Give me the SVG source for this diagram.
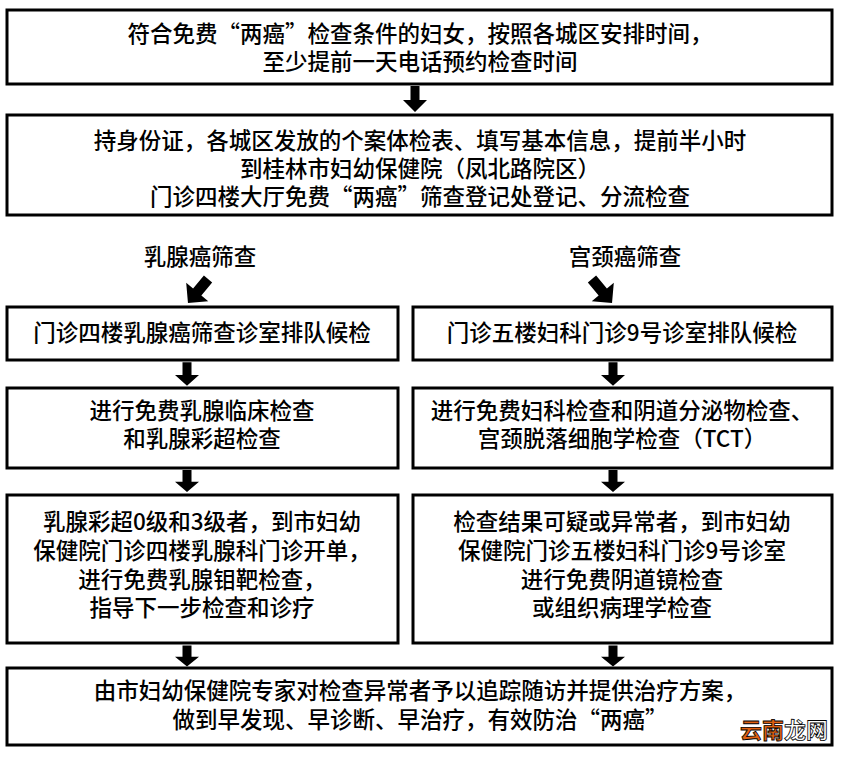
<svg xmlns="http://www.w3.org/2000/svg" width="850" height="757" viewBox="0 0 850 757">
<style>
.b{fill:#fff;stroke:#000;stroke-width:3}
text{font-family:"Noto Sans CJK SC",sans-serif;font-size:22.5px;font-weight:500;fill:#000;text-anchor:middle}
.a{fill:#000}
</style>
<defs><path id="ar" d="M-4.5,-13 H4.5 V1 H12 L0,13 L-12,1 H-4.5 Z"/></defs>
<rect width="850" height="757" fill="#fff"/>
<g id="n1"><rect class="b" x="7" y="10" width="825" height="74"/><text x="420" y="42">符合免费“两癌”检查条件的妇女，按照各城区安排时间，</text><text x="420" y="70">至少提前一天电话预约检查时间</text></g>
<g id="n2"><rect class="b" x="7" y="115" width="825" height="100"/><text x="420" y="149">持身份证，各城区发放的个案体检表、填写基本信息，提前半小时</text><text x="420" y="177">到桂林市妇幼保健院（凤北路院区）</text><text x="420" y="205">门诊四楼大厅免费“两癌”筛查登记处登记、分流检查</text></g>
<g id="l0"><text x="200" y="265">乳腺癌筛查</text></g>
<g id="r0"><text x="625" y="265">宫颈癌筛查</text></g>
<g id="l1"><rect class="b" x="7" y="307" width="391" height="53"/><text x="202" y="341">门诊四楼乳腺癌筛查诊室排队候检</text></g>
<g id="r1"><rect class="b" x="413" y="307" width="419" height="53"/><text x="622" y="341">门诊五楼妇科门诊9号诊室排队候检</text></g>
<g id="l2"><rect class="b" x="7" y="388" width="391" height="80"/><text x="202" y="419">进行免费乳腺临床检查</text><text x="202" y="447">和乳腺彩超检查</text></g>
<g id="r2"><rect class="b" x="413" y="388" width="419" height="80"/><text x="622" y="419">进行免费妇科检查和阴道分泌物检查、</text><text x="622" y="447">宫颈脱落细胞学检查（TCT）</text></g>
<g id="l3"><rect class="b" x="7" y="495" width="391" height="148"/><text x="202" y="530">乳腺彩超0级和3级者，到市妇幼</text><text x="202" y="559">保健院门诊四楼乳腺科门诊开单，</text><text x="202" y="588">进行免费乳腺钼靶检查，</text><text x="202" y="616">指导下一步检查和诊疗</text></g>
<g id="r3"><rect class="b" x="413" y="495" width="419" height="148"/><text x="622" y="530">检查结果可疑或异常者，到市妇幼</text><text x="622" y="559">保健院门诊五楼妇科门诊9号诊室</text><text x="622" y="588">进行免费阴道镜检查</text><text x="622" y="616">或组织病理学检查</text></g>
<g id="n4"><rect class="b" x="7" y="668" width="825" height="77"/><text x="420" y="699">由市妇幼保健院专家对检查异常者予以追踪随访并提供治疗方案，</text><text x="420" y="728">做到早发现、早诊断、早治疗，有效防治“两癌”</text></g>
<g id="connectors" class="a">
<use href="#ar" transform="translate(415,99)"/>
<use href="#ar" transform="translate(198,291) rotate(40) scale(1.2)"/>
<use href="#ar" transform="translate(602,291) rotate(-40) scale(1.2)"/>
<use href="#ar" transform="translate(187,374) scale(1,0.9)"/>
<use href="#ar" transform="translate(613,374) scale(1,0.9)"/>
<use href="#ar" transform="translate(187,481) scale(1,0.85)"/>
<use href="#ar" transform="translate(613,481) scale(1,0.85)"/>
<use href="#ar" transform="translate(187,656) scale(1,0.8)"/>
<use href="#ar" transform="translate(613,656) scale(1,0.8)"/>
</g>
<g id="wm"><text x="740" y="738" style="font-size:22px;fill:#e06010;stroke:#000;stroke-width:0.8;text-anchor:start;font-weight:bold">云南<tspan style="fill:#fff">龙网</tspan></text></g>
</svg>
